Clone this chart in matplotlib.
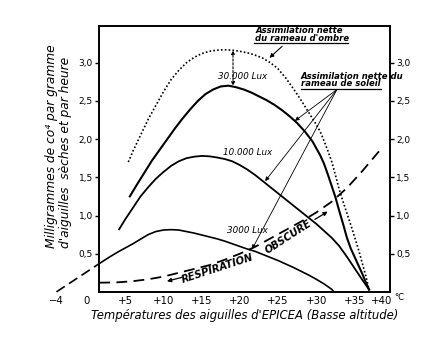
import matplotlib.pyplot as plt

# Net assimilation of spruce needles vs temperature (mg CO2 / g dry needles / h)
t_ombre = [5.4, 6, 7, 8, 9, 10, 11, 12, 13, 14, 15, 16, 17, 18, 19, 20, 21, 22, 23, 24,
           25, 26, 27, 28, 29, 30, 30.5, 31, 31.5, 32, 32.5, 33, 33.5, 34, 34.5, 35,
           35.5, 36, 36.5, 36.9]
v_ombre = [1.70, 1.84, 2.05, 2.26, 2.44, 2.62, 2.78, 2.90, 3.00, 3.07, 3.12, 3.15, 3.165,
           3.17, 3.165, 3.15, 3.13, 3.10, 3.06, 3.00, 2.92, 2.80, 2.66, 2.51, 2.35, 2.19,
           2.10, 1.98, 1.85, 1.71, 1.53, 1.34, 1.18, 1.03, 0.88, 0.72, 0.56, 0.38, 0.20, 0.03]

t_30000 = [5.6, 6.5, 7.5, 8.5, 9.5, 10.5, 11.5, 12.5, 13.5, 14.5, 15.5, 16.5, 17.5, 18.5,
           19.5, 20.5, 21.5, 22.5, 23.5, 24.5, 25.5, 26.5, 27.5, 28.5, 29.5, 30.5, 31,
           31.5, 32, 32.5, 33, 33.5, 34, 34.5, 35, 35.5, 36, 36.5, 36.9]
v_30000 = [1.25, 1.40, 1.56, 1.72, 1.86, 2.00, 2.14, 2.27, 2.39, 2.50, 2.59, 2.65, 2.69,
           2.70, 2.68, 2.65, 2.61, 2.56, 2.51, 2.45, 2.38, 2.30, 2.21, 2.10, 1.97, 1.79,
           1.68, 1.54, 1.39, 1.24, 1.06, 0.89, 0.71, 0.57, 0.46, 0.35, 0.24, 0.12, 0.03]

t_10000 = [4.2, 5, 6, 7, 8, 9, 10, 11, 12, 13, 14, 15, 16, 17, 18, 19, 20, 21, 22, 23, 24,
           25, 26, 27, 28, 29, 30, 31, 32, 33, 34, 35, 36, 36.9]
v_10000 = [0.82, 0.95, 1.10, 1.25, 1.37, 1.48, 1.57, 1.65, 1.71, 1.75, 1.77, 1.78, 1.775,
           1.76, 1.74, 1.71, 1.66, 1.60, 1.53, 1.45, 1.37, 1.29, 1.21, 1.13, 1.05, 0.97,
           0.89, 0.80, 0.71, 0.60, 0.46, 0.31, 0.16, 0.03]

t_3000 = [1.6, 3, 4, 5, 6, 7, 8, 9, 10, 11, 12, 13, 14, 15, 16, 17, 18, 19, 20, 21, 22,
          23, 24, 25, 26, 27, 28, 29, 30, 31, 32, 32.3]
v_3000 = [0.37, 0.46, 0.52, 0.575, 0.63, 0.69, 0.75, 0.79, 0.81, 0.815, 0.81, 0.79, 0.77,
          0.745, 0.72, 0.695, 0.665, 0.63, 0.595, 0.56, 0.53, 0.49, 0.45, 0.41, 0.365,
          0.32, 0.27, 0.22, 0.165, 0.105, 0.035, 0.0]

# extrapolation of the 3000 lux curve below the axis start
t_extra = [-4, 1.6]
v_extra = [0.0, 0.37]

t_resp = [1.6, 4, 6, 8, 10, 12, 14, 16, 18, 20, 22, 24, 26, 28, 30, 32, 34, 36, 38.2]
v_resp = [0.12, 0.125, 0.14, 0.165, 0.20, 0.25, 0.30, 0.35, 0.42, 0.50, 0.59, 0.70, 0.81,
          0.92, 1.04, 1.18, 1.36, 1.58, 1.84]

x_ticks = [-4, 0, 5, 10, 15, 20, 25, 30, 35, 40]
x_labels = ["\u22124", "0", "+5", "+10", "+15", "+20", "+25", "+30", "+35", "+40"]
y_ticks = [0.5, 1.0, 1.5, 2.0, 2.5, 3.0]
y_labels = ["0,5", "1,0", "1,5", "2,0", "2,5", "3,0"]

plt.rcParams['font.family'] = ['DejaVu Sans']
fig = plt.figure(figsize=(4.25, 3.39), dpi=100)
ax = fig.add_axes([0.233, 0.139, 0.685, 0.784])
ax.set_xlim(1.57, 39.66)
ax.set_ylim(0, 3.48)

k = 'black'
ax.plot(t_ombre, v_ombre, color=k, lw=1.2, linestyle=(0, (1, 1.3)))
ax.plot(t_30000, v_30000, color=k, lw=1.5)
ax.plot(t_10000, v_10000, color=k, lw=1.3)
ax.plot(t_3000, v_3000, color=k, lw=1.2)
ax.plot(t_extra, v_extra, color=k, lw=1.2, linestyle=(0, (6, 3)), clip_on=False)
ax.plot(t_resp, v_resp, color=k, lw=1.3, linestyle=(0, (6, 3.5)))

for s in ax.spines.values():
    s.set_linewidth(1.4)

ax.set_xticks([])
ax.set_yticks(y_ticks)
ax.set_yticklabels(y_labels)
ax.tick_params(axis='y', direction='out', length=3, width=1, labelsize=6.5,
               right=True, labelright=True, pad=1.5)

# temperature labels are written under the frame, the last one pushed left of °C
xt = ax.get_xaxis_transform()
for x, lab in zip(x_ticks, x_labels):
    ha = 'right' if x == x_ticks[-1] else 'center'
    ax.text(x, -0.014, lab, transform=xt, ha=ha, va='top', fontsize=7.3)
ax.text(40.2, -0.005, "\u00b0C", transform=xt, ha='left', va='top', fontsize=6)

ita = dict(style='italic', color=k)
ax.text(0.5, -0.09, "Températures des aiguilles d'EPICEA (Basse altitude)",
        transform=ax.transAxes, ha='center', va='center', fontsize=8.4, **ita)
fig.text(0.122, 0.57, "Milligrammes de co\u2074 par gramme", rotation=90,
         ha='center', va='center', fontsize=8.8, **ita)
fig.text(0.153, 0.55, "d'aiguilles  sèches et par heure", rotation=90,
         ha='center', va='center', fontsize=8.8, **ita)

lbl = dict(fontsize=6.1, weight='bold', ha='left', va='baseline', **ita)

# shade branch label
ax.text(22.0, 3.39, "Assimilation nette", **lbl)
ax.text(22.0, 3.29, "du rameau d'ombre", **lbl)
ax.plot([21.8, 34.1], [3.26, 3.26], color=k, lw=0.9, clip_on=False)
ax.annotate("", xy=(23.6, 3.04), xytext=(25.8, 3.24),
            arrowprops=dict(arrowstyle='-|>', color=k, lw=0.8, mutation_scale=6))

# sun branch label with three pointers
ax.text(28.0, 2.79, "Assimilation nette du", **lbl)
ax.text(28.0, 2.69, "rameau de soleil", **lbl)
ax.plot([28.0, 38.4], [2.66, 2.66], color=k, lw=0.9, clip_on=False)
for tip in [(27.2, 2.24), (23.3, 1.45), (21.6, 0.56)]:
    ax.annotate("", xy=tip, xytext=(32.7, 2.65),
                arrowprops=dict(arrowstyle='-|>', color=k, lw=0.6, mutation_scale=6,
                                shrinkA=0, shrinkB=0))

ax.annotate("", xy=(19.1, 3.16), xytext=(19.1, 2.70),
            arrowprops=dict(arrowstyle='<|-|>', color=k, lw=0.8, linestyle=(0, (2, 1.5)),
                            mutation_scale=5, shrinkA=0, shrinkB=0))

ax.text(17.1, 2.82, "30.000 Lux", fontsize=6.3, va='center', ha='left', **ita)
ax.text(17.8, 1.83, "10.000 Lux", fontsize=6.3, va='center', ha='left', **ita)
ax.text(18.3, 0.80, "3000 Lux", fontsize=6.3, va='center', ha='left', **ita)

ax.text(17.1, 0.31, "RESPIRATION", rotation=18, ha='center', va='center',
        fontsize=7.2, weight='bold', **ita)
ax.text(26.3, 0.72, "OBSCURE", rotation=33, ha='center', va='center',
        fontsize=7.2, weight='bold', **ita)
ax.annotate("", xy=(10.1, 0.13), xytext=(12.8, 0.20),
            arrowprops=dict(arrowstyle='-|>', color=k, lw=0.9, mutation_scale=6))
ax.annotate("", xy=(31.8, 1.07), xytext=(29.5, 0.93),
            arrowprops=dict(arrowstyle='-|>', color=k, lw=0.9, mutation_scale=6))

fig.savefig("out.png", dpi=100)
